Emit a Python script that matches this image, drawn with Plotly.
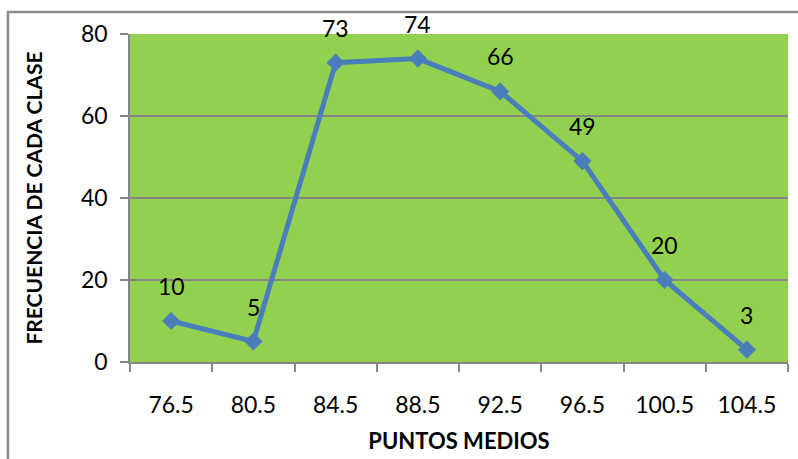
import plotly.graph_objects as go

# Class midpoints and class frequencies
puntos_medios = ["76.5", "80.5", "84.5", "88.5", "92.5", "96.5", "100.5", "104.5"]
frecuencias = [10, 5, 73, 74, 66, 49, 20, 3]
y_ticks = [0, 20, 40, 60, 80]

FONT = "Lato, 'Open Sans', sans-serif"
LINE_BLUE = "#4A7EBB"
AXIS_GRAY = "#868686"

fig = go.Figure()
fig.add_trace(go.Scatter(
    x=puntos_medios,
    y=frecuencias,
    mode="lines+markers",
    line=dict(color=LINE_BLUE, width=5),
    marker=dict(symbol="diamond", size=14, color=LINE_BLUE),
    hoverinfo="x+y",
    showlegend=False,
))

# value labels above each point (x given as category index)
for i, val in enumerate(frecuencias):
    fig.add_annotation(
        x=i, y=val, xref="x", yref="y", text=str(val), showarrow=False,
        yshift=35, font=dict(family=FONT, size=23, color="#000000"),
    )

# outer chart frame
fig.add_shape(
    type="rect", xref="paper", yref="paper",
    x0=-0.1855, x1=1.1, y0=-0.4, y1=1.067,
    line=dict(color="#8C8C8C", width=2.5), fillcolor="rgba(0,0,0,0)",
    layer="below",
)

fig.update_layout(
    width=798, height=459,
    margin=dict(l=130, r=10, t=34, b=97),
    paper_bgcolor="#FFFFFF",
    plot_bgcolor="#92D050",
    font=dict(family=FONT, size=23, color="#000000"),
    xaxis=dict(
        type="category",
        tickson="boundaries",
        ticks="outside", ticklen=8, tickwidth=1.5, tickcolor=AXIS_GRAY,
        ticklabelstandoff=22,
        showgrid=False,
        showline=True, linecolor=AXIS_GRAY, linewidth=1.5,
        tickfont=dict(family=FONT, size=23),
        title=dict(text="<b>PUNTOS MEDIOS</b>", font=dict(family=FONT, size=22), standoff=16),
        range=[-0.5, 7.5],
    ),
    yaxis=dict(
        range=[0, 80],
        tickvals=y_ticks,
        ticks="outside", ticklen=8, tickwidth=1.5, tickcolor=AXIS_GRAY,
        ticklabelstandoff=8,
        showgrid=True, gridcolor=AXIS_GRAY, gridwidth=1.5,
        showline=True, linecolor=AXIS_GRAY, linewidth=1.5,
        zeroline=False,
        tickfont=dict(family=FONT, size=23),
        title=dict(text="<b>FRECUENCIA DE CADA CLASE</b>", font=dict(family=FONT, size=21), standoff=33),
    ),
)

fig.write_html("out.html")
